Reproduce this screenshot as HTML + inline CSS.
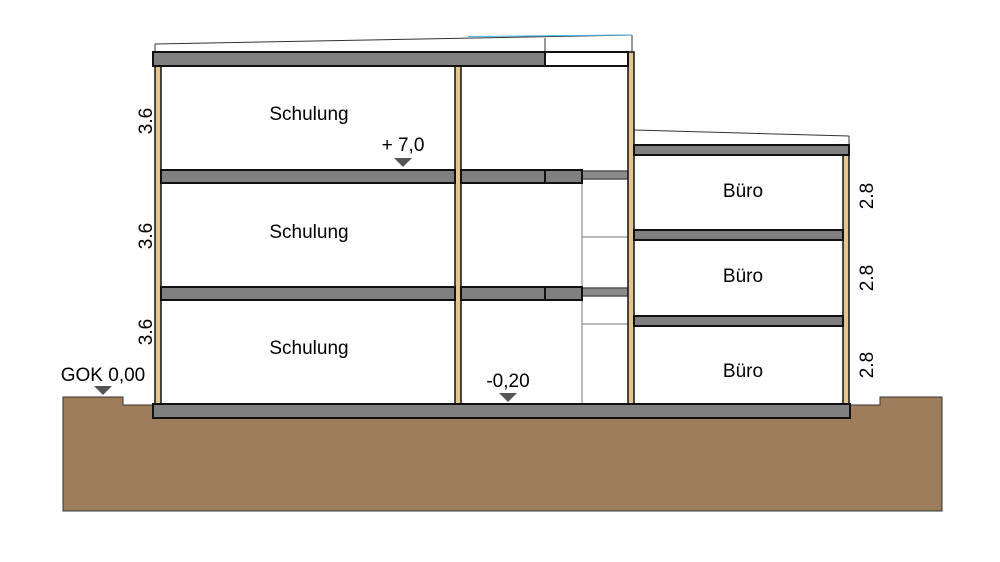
<!DOCTYPE html>
<html><head><style>html,body{margin:0;padding:0;background:#fff}svg{display:block}</style></head>
<body>
<svg width="1000" height="562" viewBox="0 0 1000 562" xmlns="http://www.w3.org/2000/svg" font-family="Liberation Sans, sans-serif">
<rect width="1000" height="562" fill="#fff"/>
<path d="M63,397 H123 V405 H153 V418 H850 V405 H880 V397 H942 V511 H63 Z" fill="#9e7d5d" stroke="#333" stroke-width="1"/>
<line x1="155" y1="44" x2="632" y2="35" stroke="#333" stroke-width="1"/>
<line x1="468" y1="36.5" x2="632" y2="35" stroke="#4ab0e0" stroke-width="1"/>
<line x1="155" y1="44" x2="155" y2="52" stroke="#333" stroke-width="1"/>
<line x1="545" y1="38" x2="545" y2="52" stroke="#333" stroke-width="1"/>
<line x1="632" y1="35" x2="632" y2="52" stroke="#333" stroke-width="1"/>
<line x1="634" y1="130" x2="849" y2="136" stroke="#333" stroke-width="1"/>
<line x1="849" y1="136" x2="849" y2="145" stroke="#333" stroke-width="1"/>
<g stroke="#777" stroke-width="1" fill="none">
<line x1="582" y1="179" x2="582" y2="404"/>
<line x1="582" y1="237" x2="628" y2="237"/>
<line x1="582" y1="324" x2="628" y2="324"/>
<line x1="582" y1="296" x2="628" y2="296"/>
</g>
<g fill="#888" stroke="#111" stroke-width="1.5">
<rect x="582" y="171" width="46" height="8" fill="#8a8a8a" stroke="#555"/>
<rect x="582" y="288" width="46" height="8" fill="#8a8a8a" stroke="#555"/>
</g>
<g fill="#e3c58f" stroke="#111" stroke-width="1.5">
<rect x="155" y="62" width="6" height="342"/>
<rect x="455" y="62" width="6" height="342"/>
<rect x="628" y="52" width="6" height="352"/>
<rect x="843" y="155" width="6" height="249"/>
</g>
<g fill="#808080" stroke="#111" stroke-width="2">
<rect x="153" y="52" width="392" height="14"/>
<rect x="153" y="404" width="697" height="14"/>
<rect x="161" y="170" width="294" height="13"/>
<rect x="461" y="170" width="84" height="13"/>
<rect x="545" y="170" width="37" height="13"/>
<rect x="161" y="287" width="294" height="13"/>
<rect x="461" y="287" width="84" height="13"/>
<rect x="545" y="287" width="37" height="13"/>
<rect x="634" y="145" width="215" height="10"/>
<rect x="634" y="230" width="209" height="10"/>
<rect x="634" y="316" width="209" height="10"/>
</g>
<rect x="545" y="52" width="83" height="14" fill="#fff" stroke="#111" stroke-width="2"/>
<g font-size="19" fill="#000" text-anchor="middle">
<text x="309" y="120">Schulung</text>
<text x="309" y="238">Schulung</text>
<text x="309" y="354">Schulung</text>
<text x="743" y="197">Büro</text>
<text x="743" y="282">Büro</text>
<text x="743" y="377">Büro</text>
<text x="403" y="151">+ 7,0</text>
<text x="508" y="387">-0,20</text>
<text x="103" y="381">GOK 0,00</text>
</g>
<g font-size="19" fill="#000" text-anchor="middle">
<text transform="translate(152,121) rotate(-90)">3.6</text>
<text transform="translate(152,236) rotate(-90)">3.6</text>
<text transform="translate(152,332) rotate(-90)">3.6</text>
<text transform="translate(873,196) rotate(-90)">2.8</text>
<text transform="translate(873,278) rotate(-90)">2.8</text>
<text transform="translate(873,365) rotate(-90)">2.8</text>
</g>
<g fill="#555">
<path d="M394,158 H412 L403,167 Z"/>
<path d="M499,393 H517 L508,402 Z"/>
<path d="M94,386 H112 L103,395 Z"/>
</g>
</svg>
</body></html>
